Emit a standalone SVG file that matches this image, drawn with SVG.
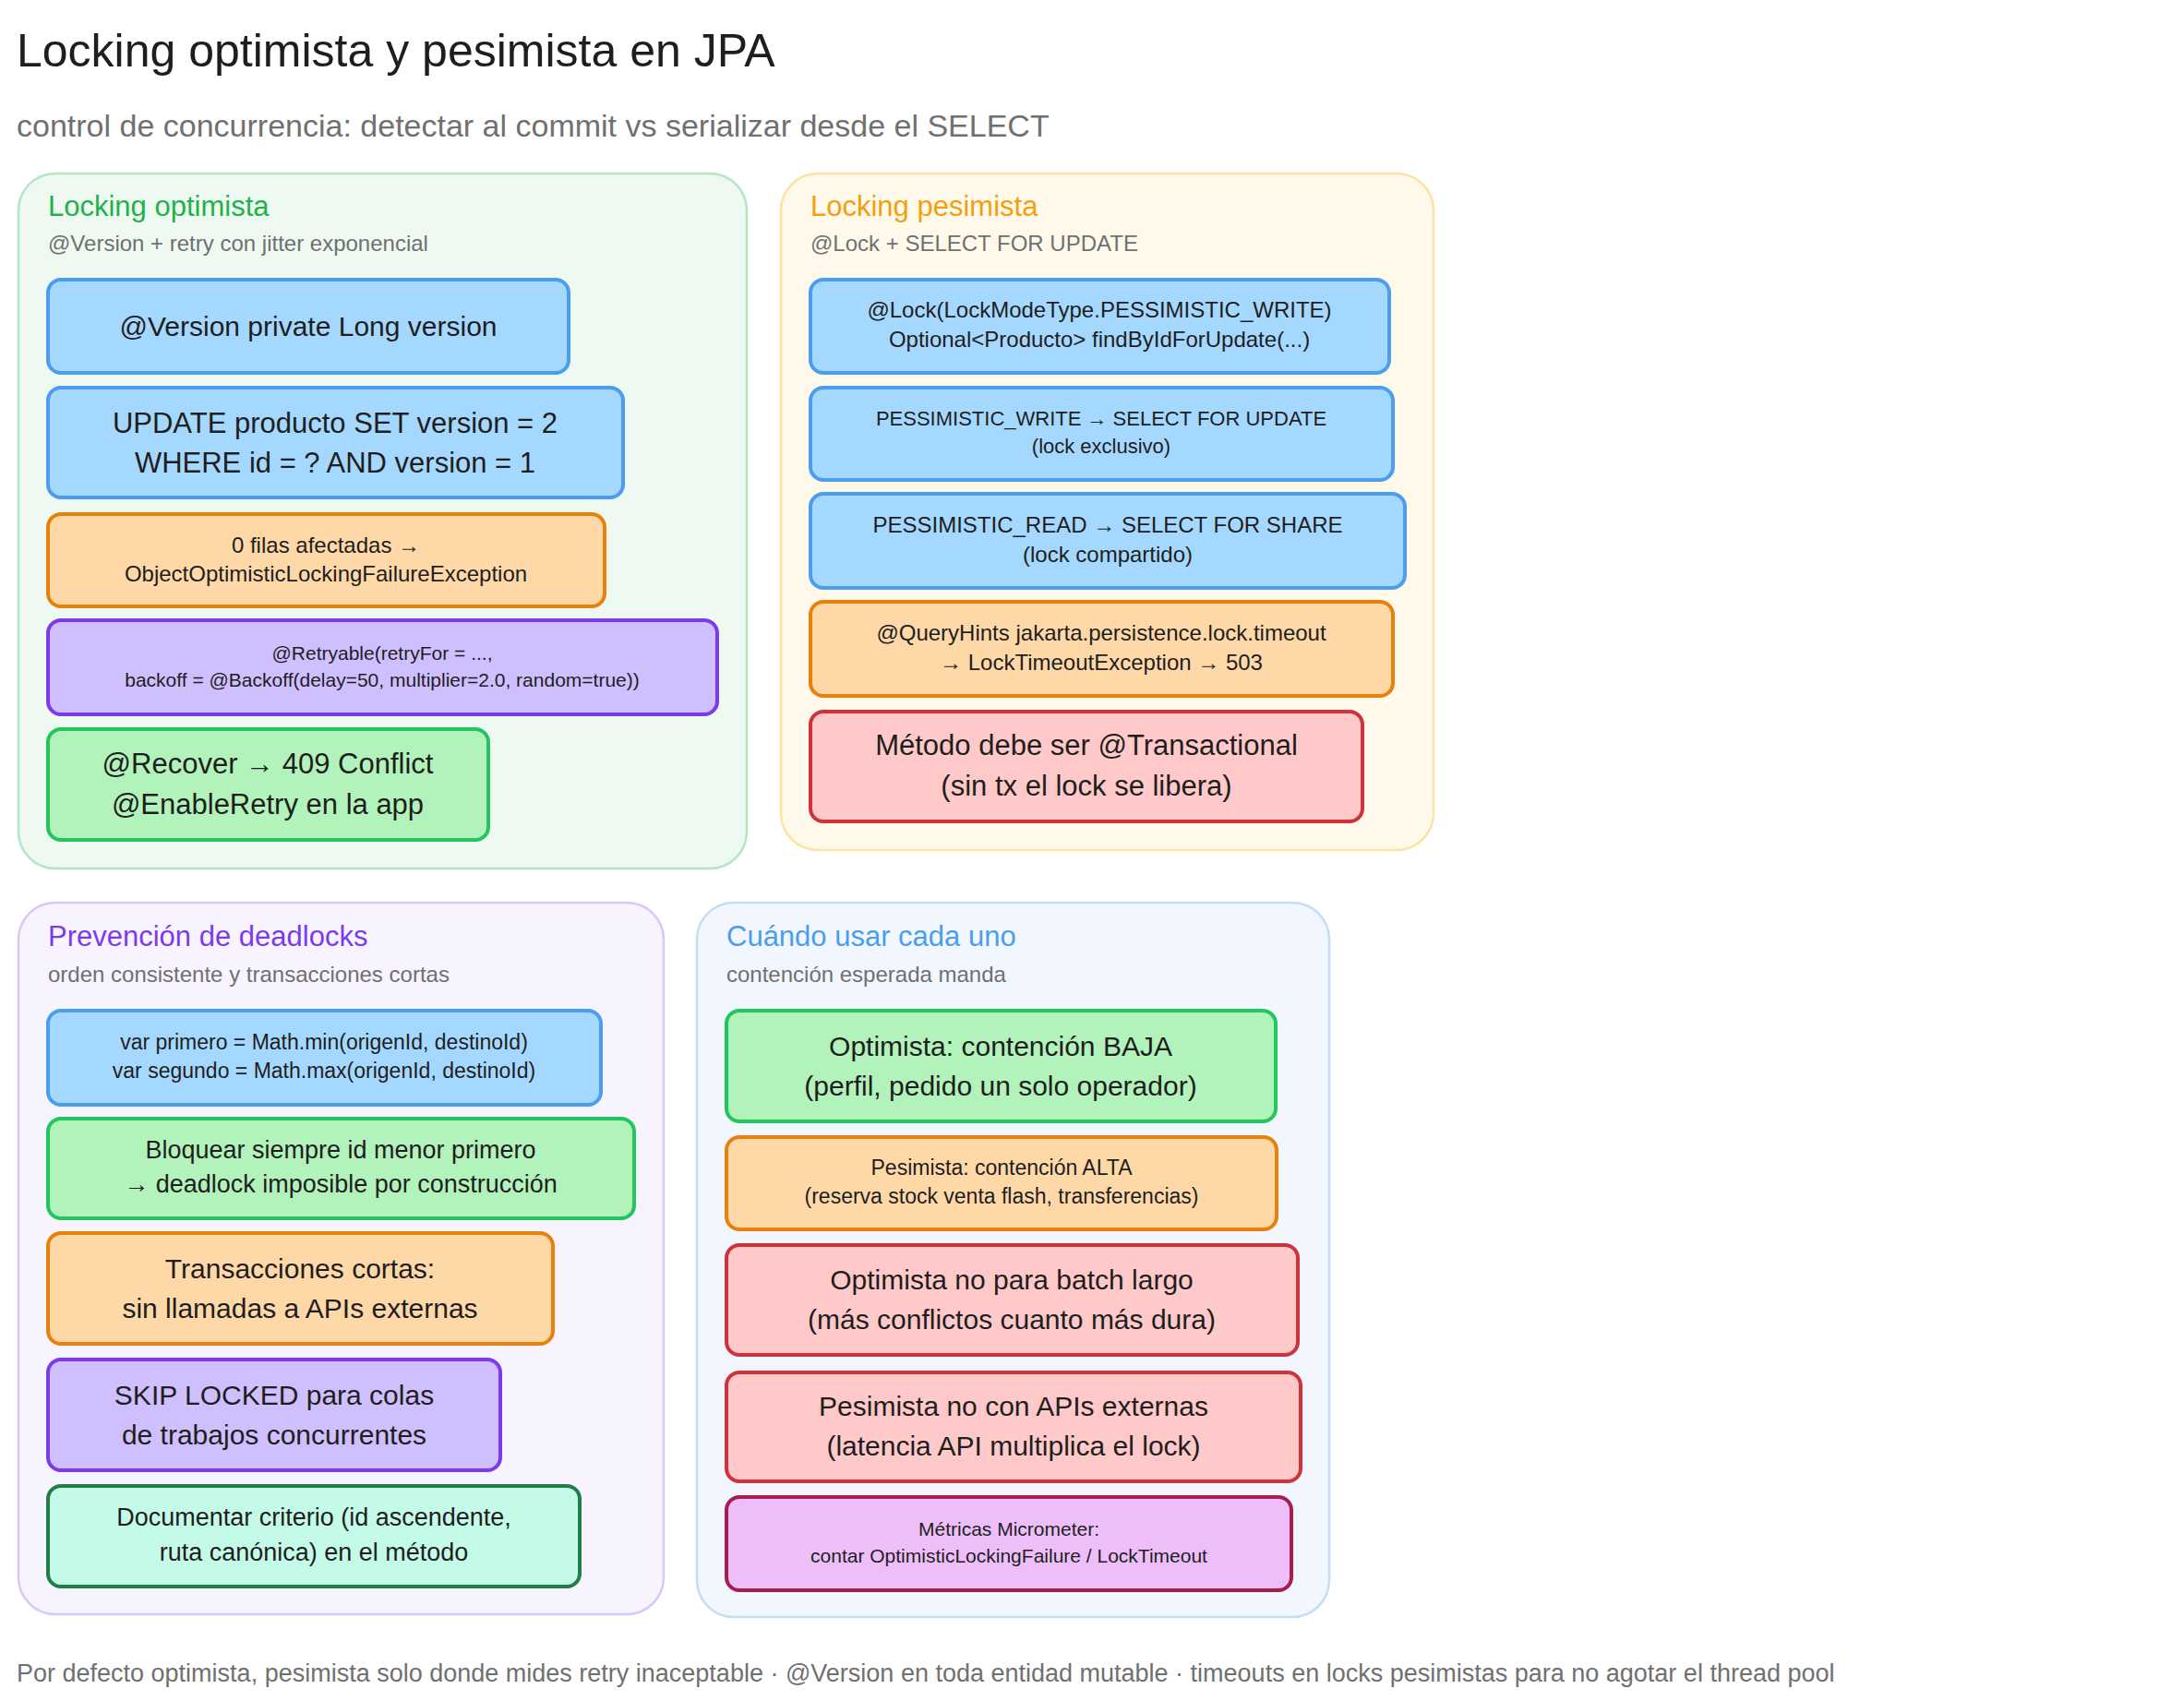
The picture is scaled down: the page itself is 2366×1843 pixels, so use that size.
<svg xmlns="http://www.w3.org/2000/svg" width="2366" height="1843" viewBox="0 0 2366 1843">
<style>
text{font-family:"Liberation Sans","DejaVu Sans",sans-serif;fill:#1e1e1e}
.c{text-anchor:middle}
.pt{font-size:31px}
.ps{font-size:24px;fill:#707070}
.n{stroke-width:4}
.blue{fill:#a5d8ff;stroke:#4a9eed}
.orange{fill:#ffd8a8;stroke:#e8800c}
.purple{fill:#d0bfff;stroke:#7c3aed}
.green{fill:#b2f2bb;stroke:#22c55e}
.red{fill:#ffc9c9;stroke:#d0313b}
.mint{fill:#c3fae8;stroke:#1e7e44}
.mag{fill:#eebefa;stroke:#a61e4d}
</style>
<rect width="2366" height="1843" fill="#ffffff"/>
<text x="18" y="72" font-size="50">Locking optimista y pesimista en JPA</text>
<text x="18" y="148" font-size="34" fill="#707070" style="fill:#707070">control de concurrencia: detectar al commit vs serializar desde el SELECT</text>

<g id="panel-optimista">
<rect x="20" y="188" width="789" height="753" rx="40" fill="#eefaf1" stroke="#b2e6c4" stroke-width="2.5"/>
<text x="52" y="234" class="pt" style="fill:#22b14c">Locking optimista</text>
<text x="52" y="272" class="ps">@Version + retry con jitter exponencial</text>
</g>
<g id="o1"><rect class="n blue" x="52" y="303" width="564" height="101" rx="14"/><text class="c" x="334" y="364" font-size="30">@Version private Long version</text></g>
<g id="o2"><rect class="n blue" x="52" y="420" width="623" height="119" rx="14"/><text class="c" x="363" y="469" font-size="31">UPDATE producto SET version = 2</text><text class="c" x="363" y="512" font-size="31">WHERE id = ? AND version = 1</text></g>
<g id="o3"><rect class="n orange" x="52" y="557" width="603" height="100" rx="14"/><text class="c" x="353" y="599" font-size="24">0 filas afectadas →</text><text class="c" x="353" y="630" font-size="24">ObjectOptimisticLockingFailureException</text></g>
<g id="o4"><rect class="n purple" x="52" y="672" width="725" height="102" rx="14"/><text class="c" x="414" y="715" font-size="21">@Retryable(retryFor = ...,</text><text class="c" x="414" y="744" font-size="21">backoff = @Backoff(delay=50, multiplier=2.0, random=true))</text></g>
<g id="o5"><rect class="n green" x="52" y="790" width="477" height="120" rx="14"/><text class="c" x="290" y="838" font-size="31">@Recover → 409 Conflict</text><text class="c" x="290" y="882" font-size="31">@EnableRetry en la app</text></g>

<g id="panel-pesimista">
<rect x="846" y="188" width="707" height="733" rx="40" fill="#fff9eb" stroke="#ffe2a0" stroke-width="2.5"/>
<text x="878" y="234" class="pt" style="fill:#f59e0b">Locking pesimista</text>
<text x="878" y="272" class="ps">@Lock + SELECT FOR UPDATE</text>
</g>
<g id="p1"><rect class="n blue" x="878" y="303" width="627" height="101" rx="14"/><text class="c" x="1191" y="344" font-size="24">@Lock(LockModeType.PESSIMISTIC_WRITE)</text><text class="c" x="1191" y="376" font-size="24">Optional&lt;Producto&gt; findByIdForUpdate(...)</text></g>
<g id="p2"><rect class="n blue" x="878" y="420" width="631" height="100" rx="14"/><text class="c" x="1193" y="461" font-size="22">PESSIMISTIC_WRITE → SELECT FOR UPDATE</text><text class="c" x="1193" y="491" font-size="22">(lock exclusivo)</text></g>
<g id="p3"><rect class="n blue" x="878" y="535" width="644" height="102" rx="14"/><text class="c" x="1200" y="577" font-size="24">PESSIMISTIC_READ → SELECT FOR SHARE</text><text class="c" x="1200" y="609" font-size="24">(lock compartido)</text></g>
<g id="p4"><rect class="n orange" x="878" y="652" width="631" height="102" rx="14"/><text class="c" x="1193" y="694" font-size="24">@QueryHints jakarta.persistence.lock.timeout</text><text class="c" x="1193" y="726" font-size="24">→ LockTimeoutException → 503</text></g>
<g id="p5"><rect class="n red" x="878" y="771" width="598" height="119" rx="14"/><text class="c" x="1177" y="818" font-size="31">Método debe ser @Transactional</text><text class="c" x="1177" y="862" font-size="31">(sin tx el lock se libera)</text></g>

<g id="panel-deadlocks">
<rect x="20" y="978" width="699" height="771" rx="40" fill="#f7f4ff" stroke="#d8c8f5" stroke-width="2.5"/>
<text x="52" y="1025" class="pt" style="fill:#7c3aed">Prevención de deadlocks</text>
<text x="52" y="1064" class="ps">orden consistente y transacciones cortas</text>
</g>
<g id="d1"><rect class="n blue" x="52" y="1095" width="599" height="102" rx="14"/><text class="c" x="351" y="1137" font-size="23">var primero = Math.min(origenId, destinoId)</text><text class="c" x="351" y="1168" font-size="23">var segundo = Math.max(origenId, destinoId)</text></g>
<g id="d2"><rect class="n green" x="52" y="1212" width="635" height="108" rx="14"/><text class="c" x="369" y="1255" font-size="27">Bloquear siempre id menor primero</text><text class="c" x="369" y="1292" font-size="27">→ deadlock imposible por construcción</text></g>
<g id="d3"><rect class="n orange" x="52" y="1336" width="547" height="120" rx="14"/><text class="c" x="325" y="1385" font-size="30">Transacciones cortas:</text><text class="c" x="325" y="1428" font-size="30">sin llamadas a APIs externas</text></g>
<g id="d4"><rect class="n purple" x="52" y="1473" width="490" height="120" rx="14"/><text class="c" x="297" y="1522" font-size="30">SKIP LOCKED para colas</text><text class="c" x="297" y="1565" font-size="30">de trabajos concurrentes</text></g>
<g id="d5"><rect class="n mint" x="52" y="1610" width="576" height="109" rx="14"/><text class="c" x="340" y="1653" font-size="27">Documentar criterio (id ascendente,</text><text class="c" x="340" y="1691" font-size="27">ruta canónica) en el método</text></g>

<g id="panel-cuando">
<rect x="755" y="978" width="685" height="774" rx="40" fill="#f2f7ff" stroke="#c5dcf5" stroke-width="2.5"/>
<text x="787" y="1025" class="pt" style="fill:#4a9eed">Cuándo usar cada uno</text>
<text x="787" y="1064" class="ps">contención esperada manda</text>
</g>
<g id="c1"><rect class="n green" x="787" y="1095" width="595" height="120" rx="14"/><text class="c" x="1084" y="1144" font-size="30">Optimista: contención BAJA</text><text class="c" x="1084" y="1187" font-size="30">(perfil, pedido un solo operador)</text></g>
<g id="c2"><rect class="n orange" x="787" y="1232" width="596" height="100" rx="14"/><text class="c" x="1085" y="1273" font-size="23">Pesimista: contención ALTA</text><text class="c" x="1085" y="1304" font-size="23">(reserva stock venta flash, transferencias)</text></g>
<g id="c3"><rect class="n red" x="787" y="1349" width="619" height="119" rx="14"/><text class="c" x="1096" y="1397" font-size="30">Optimista no para batch largo</text><text class="c" x="1096" y="1440" font-size="30">(más conflictos cuanto más dura)</text></g>
<g id="c4"><rect class="n red" x="787" y="1487" width="622" height="118" rx="14"/><text class="c" x="1098" y="1534" font-size="30">Pesimista no con APIs externas</text><text class="c" x="1098" y="1577" font-size="30">(latencia API multiplica el lock)</text></g>
<g id="c5"><rect class="n mag" x="787" y="1622" width="612" height="101" rx="14"/><text class="c" x="1093" y="1664" font-size="21">Métricas Micrometer:</text><text class="c" x="1093" y="1693" font-size="21">contar OptimisticLockingFailure / LockTimeout</text></g>

<g id="connectors"></g>
<text x="18" y="1822" font-size="27" style="fill:#707070">Por defecto optimista, pesimista solo donde mides retry inaceptable · @Version en toda entidad mutable · timeouts en locks pesimistas para no agotar el thread pool</text>
</svg>
